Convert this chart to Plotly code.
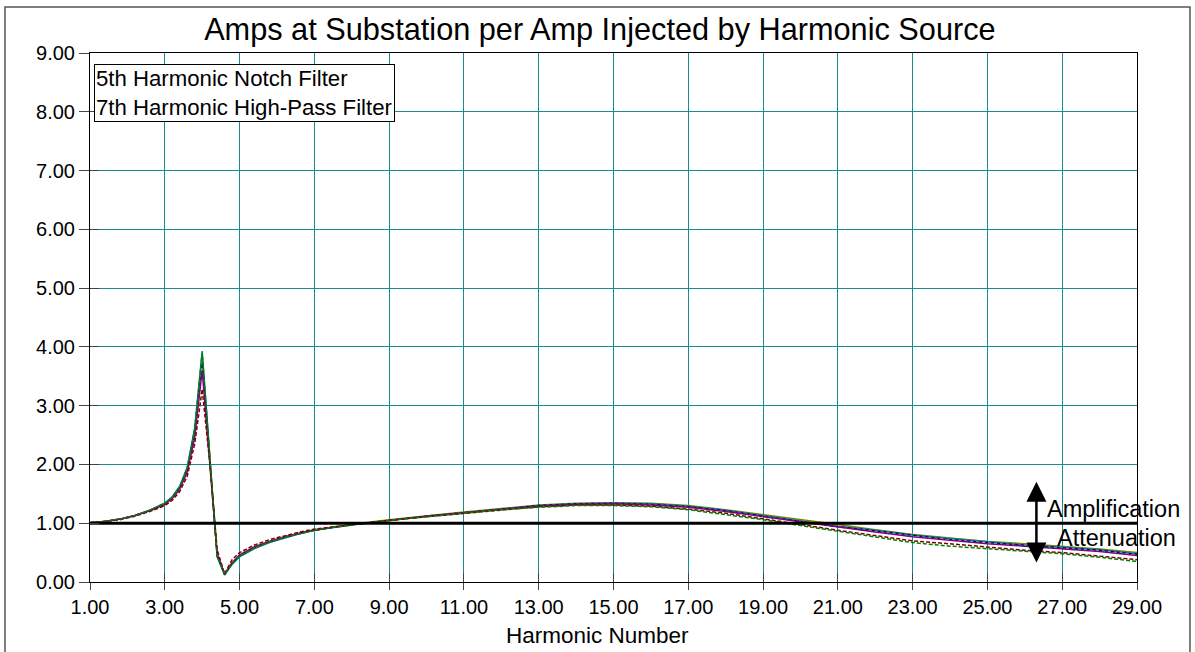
import plotly.graph_objects as go

# Harmonic numbers at which the response was evaluated
harmonic = [1.0, 1.4, 1.8, 2.2, 2.6, 3.0, 3.2, 3.4, 3.6, 3.8, 4.0, 4.2, 4.4, 4.6, 4.8,
            5.0, 5.4, 5.8, 6.2, 6.6, 7.0, 7.5, 8.0, 8.5, 9, 10, 11, 12, 13, 14, 15,
            16, 17, 18, 19, 20, 21, 22, 23, 24, 25, 26, 27, 28, 29]

# Substation amps per injected amp, one list per case
case_olive = [1.01, 1.03, 1.07, 1.13, 1.22, 1.34, 1.44, 1.62, 1.93, 2.58, 3.85, 2.14, 0.44, 0.13, 0.31,
              0.44, 0.58, 0.68, 0.76, 0.82, 0.88, 0.93, 0.98, 1.02, 1.06, 1.13, 1.19, 1.25, 1.31, 1.34, 1.35,
              1.34, 1.30, 1.23, 1.15, 1.06, 0.98, 0.89, 0.81, 0.75, 0.69, 0.65, 0.61, 0.56, 0.50]
case_teal = [1.01, 1.03, 1.07, 1.13, 1.22, 1.34, 1.45, 1.63, 1.95, 2.62, 3.93, 2.18, 0.43, 0.12, 0.30,
             0.43, 0.57, 0.67, 0.75, 0.82, 0.88, 0.93, 0.97, 1.01, 1.05, 1.12, 1.18, 1.24, 1.30, 1.33, 1.34,
             1.33, 1.29, 1.22, 1.13, 1.04, 0.95, 0.88, 0.80, 0.74, 0.68, 0.63, 0.59, 0.55, 0.48]
case_navy = [1.01, 1.03, 1.07, 1.13, 1.21, 1.33, 1.43, 1.60, 1.90, 2.52, 3.72, 2.10, 0.46, 0.13, 0.32,
             0.45, 0.59, 0.69, 0.76, 0.83, 0.88, 0.93, 0.98, 1.01, 1.05, 1.12, 1.18, 1.24, 1.30, 1.33, 1.34,
             1.32, 1.28, 1.21, 1.12, 1.03, 0.94, 0.87, 0.79, 0.72, 0.67, 0.62, 0.58, 0.54, 0.47]
case_purple = [1.01, 1.03, 1.07, 1.13, 1.21, 1.32, 1.42, 1.58, 1.87, 2.46, 3.60, 2.08, 0.48, 0.13, 0.33,
               0.46, 0.60, 0.69, 0.77, 0.83, 0.89, 0.93, 0.98, 1.01, 1.05, 1.12, 1.18, 1.24, 1.29, 1.32, 1.33,
               1.31, 1.27, 1.20, 1.11, 1.02, 0.93, 0.85, 0.77, 0.71, 0.65, 0.61, 0.57, 0.52, 0.45]
case_maroon = [1.01, 1.03, 1.06, 1.12, 1.20, 1.30, 1.39, 1.54, 1.80, 2.35, 3.28, 2.05, 0.55, 0.14, 0.38,
               0.50, 0.63, 0.72, 0.79, 0.85, 0.90, 0.94, 0.98, 1.01, 1.05, 1.11, 1.17, 1.23, 1.28, 1.31, 1.31,
               1.29, 1.24, 1.17, 1.08, 0.98, 0.88, 0.79, 0.70, 0.65, 0.59, 0.54, 0.50, 0.44, 0.38]
case_green = [1.01, 1.03, 1.07, 1.13, 1.22, 1.34, 1.44, 1.62, 1.94, 2.60, 3.90, 2.16, 0.44, 0.13, 0.31,
              0.44, 0.58, 0.68, 0.76, 0.82, 0.88, 0.93, 0.97, 1.01, 1.05, 1.11, 1.17, 1.23, 1.27, 1.30, 1.30,
              1.28, 1.23, 1.15, 1.06, 0.96, 0.86, 0.76, 0.67, 0.61, 0.57, 0.52, 0.48, 0.42, 0.35]

# Unity reference (amplification / attenuation boundary)
unity_x = [1, 29]
unity_y = [1.0, 1.0]

x_ticks = [1, 3, 5, 7, 9, 11, 13, 15, 17, 19, 21, 23, 25, 27, 29]
y_ticks = [0, 1, 2, 3, 4, 5, 6, 7, 8, 9]
x_range = [1, 29]
y_range = [0, 9]

FONT = "Arial, Liberation Sans, sans-serif"
GRID = "#1a8c8c"
TICK = "#444"

fig = go.Figure()

curves = [
    (case_olive, "#808000", "solid"),
    (case_teal, "#008080", "solid"),
    (case_navy, "#000080", "dot"),
    (case_purple, "#800080", "solid"),
    (case_maroon, "#800000", "4px,2px"),
    (case_green, "#008000", "4px,2px"),
]
for ys, color, dash in curves:
    fig.add_trace(go.Scatter(x=harmonic, y=ys, mode="lines",
                             line=dict(color=color, width=1.5, dash=dash),
                             showlegend=False, hoverinfo="skip"))

# Unity line sits on the overlay axes, which carry the inner tick marks
fig.add_trace(go.Scatter(x=unity_x, y=unity_y, mode="lines", xaxis="x2", yaxis="y2",
                         line=dict(color="black", width=3),
                         showlegend=False, hoverinfo="skip"))

fig.update_layout(
    width=1195, height=652,
    margin=dict(l=90, r=58, t=53, b=70),
    paper_bgcolor="white", plot_bgcolor="white",
    font=dict(family=FONT, color="black", size=20),
    title=dict(text="Amps at Substation per Amp Injected by Harmonic Source",
               x=0.502, xanchor="center", y=0.955, yanchor="middle",
               font=dict(size=30.7, family=FONT)),
    xaxis=dict(range=x_range, tickvals=x_ticks, tickformat=".2f",
               showgrid=True, gridcolor=GRID, gridwidth=1,
               zeroline=False, showline=True, linecolor="black", linewidth=1, mirror=True,
               ticks="outside", ticklen=7, tickcolor=TICK, tickfont=dict(size=20)),
    yaxis=dict(range=y_range, tickvals=y_ticks, tickformat=".2f",
               showgrid=True, gridcolor=GRID, gridwidth=1,
               zeroline=False, showline=True, linecolor="black", linewidth=1, mirror=True,
               ticks="outside", ticklen=10, tickcolor=TICK, tickfont=dict(size=20)),
    xaxis2=dict(range=x_range, tickvals=x_ticks, overlaying="x", side="bottom",
                showgrid=False, zeroline=False, showline=False, showticklabels=False,
                ticks="inside", ticklen=9, tickcolor=TICK),
    yaxis2=dict(range=y_range, tickvals=y_ticks, overlaying="y", side="left",
                showgrid=False, zeroline=False, showline=False, showticklabels=False,
                ticks="inside", ticklen=9, tickcolor=TICK),
    shapes=[
        dict(type="rect", xref="paper", yref="paper",
             x0=-0.0812, x1=1.0506, y0=-0.2, y1=1.087,
             line=dict(color="#555", width=1.5), fillcolor="rgba(0,0,0,0)", layer="below"),
    ],
    annotations=[
        dict(text="Harmonic Number", xref="paper", yref="paper", x=0.485, y=-0.102,
             xanchor="center", yanchor="middle", showarrow=False,
             font=dict(size=22.5, family=FONT)),
        dict(text="5th Harmonic Notch Filter<br>7th Harmonic High-Pass Filter",
             xref="paper", yref="paper", x=0.0035, y=0.979, xanchor="left", yanchor="top",
             align="left", showarrow=False, font=dict(size=22.2, family=FONT),
             bordercolor="black", borderwidth=1, borderpad=1, bgcolor="white"),
        dict(x=26.31, y=0.33, ax=26.31, ay=1.73, xref="x", yref="y", axref="x", ayref="y",
             text="", showarrow=True, arrowside="end+start", arrowhead=2,
             arrowsize=1.6, arrowwidth=2.5, arrowcolor="black"),
        dict(text="Amplification", x=26.55, y=1.24, xref="x", yref="y",
             xanchor="left", yanchor="middle", showarrow=False, font=dict(size=23.5, family=FONT)),
        dict(text="Attenuation", x=26.82, y=0.75, xref="x", yref="y",
             xanchor="left", yanchor="middle", showarrow=False, font=dict(size=23.5, family=FONT)),
    ],
)

fig.write_html("out.html")
